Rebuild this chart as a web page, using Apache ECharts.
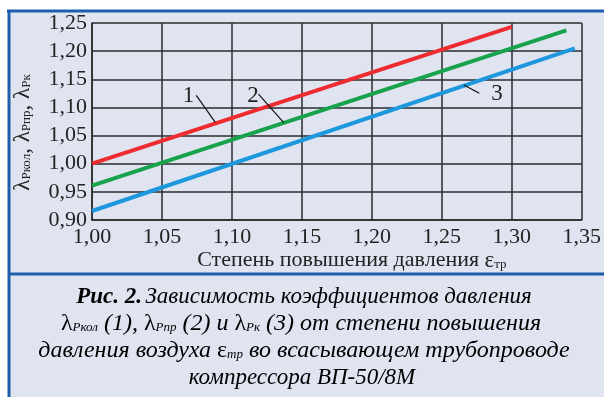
<!DOCTYPE html>
<html>
<head>
<meta charset="utf-8">
<script src="https://cdn.jsdelivr.net/npm/echarts@6/dist/echarts.min.js"></script>
<style>
  html, body { margin: 0; padding: 0; background: #fff; }
  #chart { width: 604px; height: 397px; }
</style>
</head>
<body>
<div id="chart"></div>
<script>
// compression ratio in suction pipe (x) and pressure coefficients (y)
const xRed = [1.00, 1.30];
const yRed = [1.000, 1.243];
const xGreen = [1.00, 1.339];
const yGreen = [0.961, 1.237];
const xBlue = [1.00, 1.345];
const yBlue = [0.916, 1.205];

const xTicks = [1.00, 1.05, 1.10, 1.15, 1.20, 1.25, 1.30, 1.35];
const yTicks = [0.90, 0.95, 1.00, 1.05, 1.10, 1.15, 1.20, 1.25];

// curve numbers with leader lines (data units)
const curveLabels = ['1', '2', '3'];
const labelAt = [[1.069, 1.121], [1.115, 1.121], [1.2895, 1.1247]];
const leaderFrom = [[1.0745, 1.1215], [1.119, 1.1238], [1.2657, 1.1398]];
const leaderTo = [[1.088, 1.074], [1.137, 1.0729], [1.2768, 1.1251]];

const BLUE_FRAME = '#1c5eab';
const BG = '#e0e4f1';
const GRID = '#2b2b2b';
const serif = '"Liberation Serif", "DejaVu Serif", serif';

const pairs = (xs, ys) => xs.map((x, i) => [x, ys[i]]);
const comma = (v) => v.toFixed(2).replace('.', ',');

const chart = echarts.init(document.getElementById('chart'));

function lineSeries(name, xs, ys, color, idx) {
  return {
    name: name,
    type: 'line',
    data: pairs(xs, ys),
    symbol: 'none',
    lineStyle: { color: color, width: 4 },
    z: 3,
    markLine: {
      silent: true,
      symbol: 'none',
      lineStyle: { color: '#111', width: 1.2, type: 'solid' },
      label: { show: false },
      data: [[{ coord: leaderFrom[idx] }, { coord: leaderTo[idx] }]],
    },
    markPoint: {
      silent: true,
      symbol: 'circle',
      symbolSize: 0,
      data: [{ coord: labelAt[idx] }],
      label: {
        show: true,
        position: 'inside',
        formatter: curveLabels[idx],
        color: '#222',
        fontFamily: serif,
        fontSize: 23,
      },
    },
  };
}

const sub = { fontSize: 13, fontFamily: serif, fontStyle: 'italic', color: '#222', padding: [8, 0, 0, 0] };
const cap = { fontSize: 23, fontFamily: serif, fontStyle: 'italic', color: '#222' };
const capWide = Object.assign({}, cap, { fontSize: 24 });

const option = {
  backgroundColor: '#fff',
  animation: false,
  graphic: [
    { type: 'rect', shape: { x: 8, y: 11, width: 600, height: 390 }, style: { fill: BG }, z: -10 },
    { type: 'line', shape: { x1: 7, y1: 11, x2: 604, y2: 11 }, style: { stroke: BLUE_FRAME, lineWidth: 3 }, z: 10 },
    { type: 'line', shape: { x1: 9, y1: 10, x2: 9, y2: 397 }, style: { stroke: BLUE_FRAME, lineWidth: 3 }, z: 10 },
    { type: 'line', shape: { x1: 8, y1: 274, x2: 604, y2: 274 }, style: { stroke: BLUE_FRAME, lineWidth: 3 }, z: 10 },
    {
      type: 'text', x: 304, y: 297, z: 10,
      style: {
        text: '{b|Рис. 2.} {i|Зависимость коэффициентов давления}',
        align: 'center', verticalAlign: 'middle',
        rich: { b: Object.assign({}, cap, { fontWeight: 'bold' }), i: cap },
      },
    },
    {
      type: 'text', x: 301, y: 324, z: 10,
      style: {
        text: '{u|λ}{s|Pкол}{i| (1), }{u|λ}{s|Pпр}{i| (2) и }{u|λ}{s|Pк}{i| (3) от степени повышения}',
        align: 'center', verticalAlign: 'middle',
        rich: { u: Object.assign({}, capWide, { fontStyle: 'normal' }), s: sub, i: capWide },
      },
    },
    {
      type: 'text', x: 304, y: 351, z: 10,
      style: {
        text: '{i|давления воздуха }{u|ε}{s|тр}{i| во всасывающем трубопроводе}',
        align: 'center', verticalAlign: 'middle',
        rich: { u: Object.assign({}, capWide, { fontStyle: 'normal' }), s: sub, i: capWide },
      },
    },
    {
      type: 'text', x: 302, y: 378, z: 10,
      style: {
        text: '{i|компрессора ВП-50/8М}',
        align: 'center', verticalAlign: 'middle',
        rich: { i: cap },
      },
    },
  ],
  grid: { left: 92, right: 15, top: 23, bottom: 177 },
  xAxis: {
    type: 'value',
    min: xTicks[0],
    max: xTicks[xTicks.length - 1],
    interval: 0.05,
    axisLine: { show: true, lineStyle: { color: GRID, width: 1.5 } },
    axisTick: { show: false },
    axisLabel: { color: '#222', fontFamily: serif, fontSize: 22, margin: 6, formatter: comma },
    splitLine: { show: true, lineStyle: { color: GRID, width: 1.5 } },
    name: '{t|Степень повышения давления }{e|ε}{s|тр}',
    nameLocation: 'middle',
    nameGap: 29,
    nameTextStyle: {
      padding: [0, 0, 0, 30],
      rich: {
        t: { fontFamily: serif, fontSize: 22, color: '#222' },
        e: { fontFamily: serif, fontSize: 23, color: '#222' },
        s: { fontFamily: serif, fontSize: 13, color: '#222', padding: [8, 0, 0, 0] },
      },
    },
  },
  yAxis: {
    type: 'value',
    min: yTicks[0],
    max: yTicks[yTicks.length - 1],
    interval: 0.05,
    axisLine: { show: true, lineStyle: { color: GRID, width: 1.5 } },
    axisTick: { show: false },
    axisLabel: { color: '#222', fontFamily: serif, fontSize: 22, margin: 5, formatter: comma },
    splitLine: { show: true, lineStyle: { color: GRID, width: 1.5 } },
    name: '{l|λ}{s|Pкол}{l|, λ}{s|Pпр}{l|, λ}{s|Pк}',
    nameLocation: 'middle',
    nameRotate: 90,
    nameGap: 58,
    nameTextStyle: {
      padding: [0, 22, 0, 0],
      rich: {
        l: { fontFamily: serif, fontSize: 23, color: '#222' },
        s: { fontFamily: serif, fontSize: 13, color: '#222', padding: [8, 0, 0, 0] },
      },
    },
  },
  series: [
    lineSeries('1', xRed, yRed, '#ee2b2e', 0),
    lineSeries('2', xGreen, yGreen, '#17a24c', 1),
    lineSeries('3', xBlue, yBlue, '#1e98dc', 2),
  ],
};

chart.setOption(option);
</script>
</body>
</html>
